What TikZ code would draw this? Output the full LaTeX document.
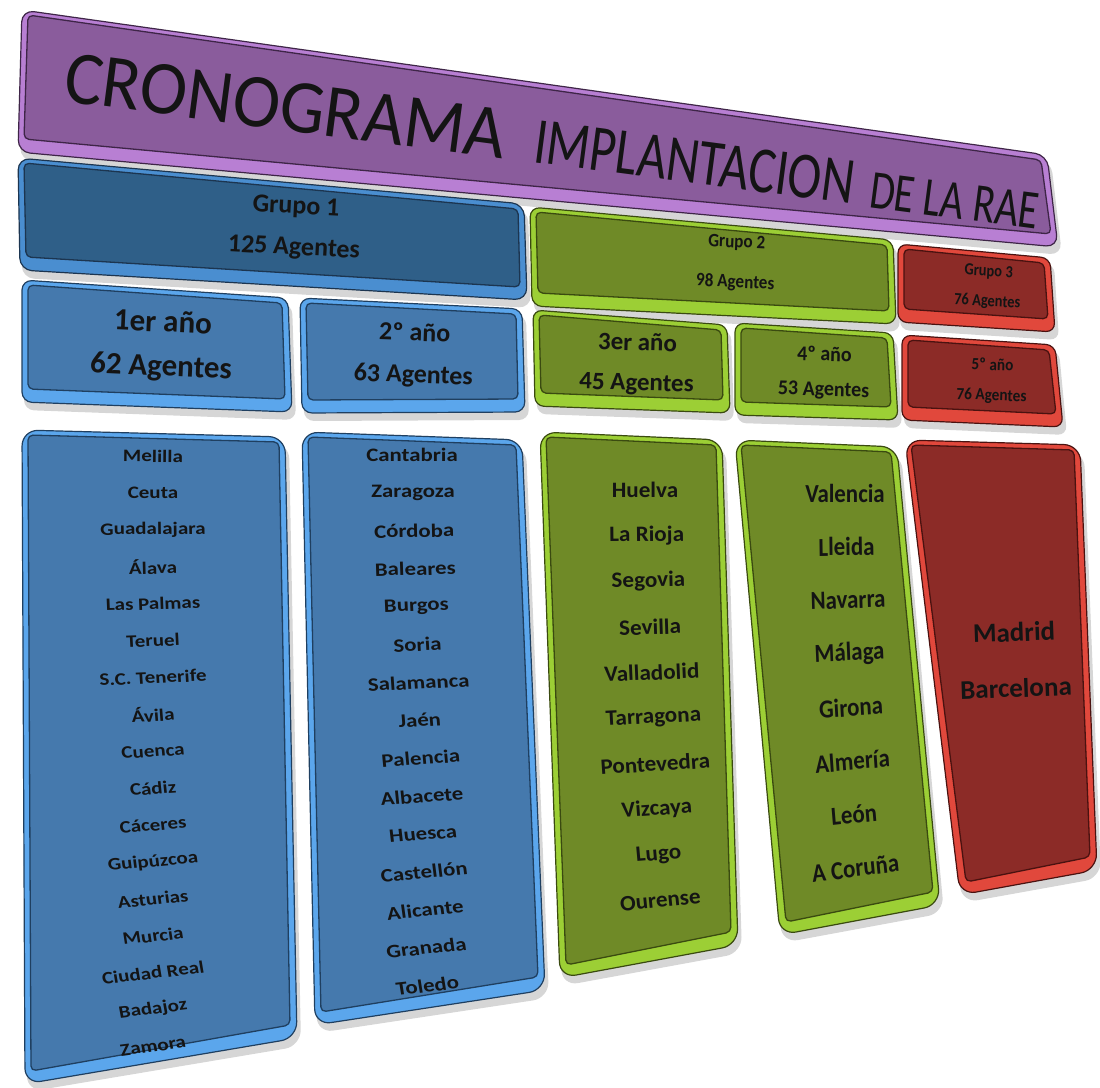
\documentclass[tikz,border=0pt]{standalone}
\usepackage{fontspec}
\setmainfont{Carlito}
\usetikzlibrary{calc}
\definecolor{purpFace}{HTML}{8A5C9C}
\definecolor{purpRim}{HTML}{B87FD3}
\definecolor{purpLine}{HTML}{3E2547}
\definecolor{gOneFace}{HTML}{2F5F88}
\definecolor{gOneRim}{HTML}{4A8ED0}
\definecolor{gOneLine}{HTML}{1C3550}
\definecolor{blueFace}{HTML}{4579AD}
\definecolor{blueRim}{HTML}{5BA6EC}
\definecolor{blueLine}{HTML}{1F3F60}
\definecolor{greenFace}{HTML}{6F8A27}
\definecolor{greenRim}{HTML}{9CCF35}
\definecolor{greenLine}{HTML}{3A4A10}
\definecolor{redFace}{HTML}{8C2B27}
\definecolor{redRim}{HTML}{E1483C}
\definecolor{redLine}{HTML}{4A1210}
\definecolor{txtc}{HTML}{141414}
\newcommand{\tf}[2]{\bfseries\fontsize{#1}{#2}\selectfont}
% #1 TL #2 TR #3 BR #4 BL #5 face #6 rim #7 line #8 radius
\newcommand{\pbox}[8]{%
  \fill[black, fill opacity=0.16, rounded corners=#8] ($#1+(2,6)$) -- ($#2+(4,6)$) -- ($#3+(4,8)$) -- ($#4+(2,8)$) -- cycle;
  \filldraw[fill=#6, draw=#7, line width=1.2pt, rounded corners=#8] #1 -- #2 -- #3 -- #4 -- cycle;
  \filldraw[fill=#5, draw=#7, line width=1.3pt, rounded corners=5] ($#1+(6,5)$) -- ($#2+(-6,5)$) -- ($#3+(-7,-13)$) -- ($#4+(6,-13)$) -- cycle;
}
\begin{document}
\begin{tikzpicture}[x=1pt,y=-1pt,
  txt/.style={text=txtc, inner sep=0pt, align=center},
  ttl/.style={text=txtc, inner sep=0pt, anchor=base west, rotate=-7.5}]
\useasboundingbox (0,0) rectangle (1100,1087);
\fill[white] (0,0) rectangle (1100,1087);

% title
\pbox{(22,10)}{(1047,155)}{(1058,247)}{(18,152)}{purpFace}{purpRim}{purpLine}{12}
\node[ttl, font=\fontsize{76}{76}\selectfont, xscale=0.94] (t1) at (62,101) {CRONOGRAMA};
\node[ttl, font=\fontsize{66}{66}\selectfont, xscale=0.77] (t2) at (532,162) {IMPLANTACION};
\node[ttl, font=\fontsize{55}{55}\selectfont, xscale=0.74] (t3) at (868,207) {DE LA RAE};

% groups
\pbox{(18,158)}{(524,204)}{(527,300)}{(20,270)}{gOneFace}{gOneRim}{gOneLine}{12}
\node[txt, font={\tf{26}{41}}, rotate=-3] (g1) at (295,228) {Grupo 1\\125 Agentes};

\pbox{(530,207)}{(893,240)}{(896,324)}{(532,306)}{greenFace}{greenRim}{greenLine}{10}
\node[txt, font={\tf{19}{40}}, xscale=0.9, rotate=-2.5] (g2) at (736,263) {Grupo 2\\98 Agentes};

\pbox{(898,244)}{(1050,258)}{(1055,332)}{(898,322)}{redFace}{redRim}{redLine}{9}
\node[txt, font={\tf{17}{30}}, xscale=0.85, rotate=-3] (g3) at (988,287) {Grupo 3\\76 Agentes};

% years
\pbox{(22,280)}{(288,298)}{(292,412)}{(22,402)}{blueFace}{blueRim}{blueLine}{10}
\node[txt, font={\tf{31}{44}}, rotate=-2.5] (y1) at (162,346) {1er año\\62 Agentes};

\pbox{(300,298)}{(522,309)}{(525,412)}{(302,413)}{blueFace}{blueRim}{blueLine}{10}
\node[txt, font={\tf{26}{42}}, rotate=-2] (y2) at (414,355) {2º año\\63 Agentes};

\pbox{(533,310)}{(727,325)}{(730,413)}{(535,406)}{greenFace}{greenRim}{greenLine}{9}
\node[txt, font={\tf{25}{40}}, rotate=-1.5] (y3) at (637,364) {3er año\\45 Agentes};

\pbox{(735,323)}{(893,333)}{(898,420)}{(735,415)}{greenFace}{greenRim}{greenLine}{9}
\node[txt, font={\tf{21}{35}}, xscale=0.95, rotate=-1.5] (y4) at (824,373) {4º año\\53 Agentes};

\pbox{(902,335)}{(1055,345)}{(1063,427)}{(902,420)}{redFace}{redRim}{redLine}{9}
\node[txt, font={\tf{17}{30}}, xscale=0.9, rotate=-2] (y5) at (992,381) {5º año\\76 Agentes};

% columns
\pbox{(22,430)}{(285,437)}{(297,1038)}{(25,1084)}{blueFace}{blueRim}{blueLine}{16}
\foreach \t [count=\i from 0] in {Melilla,Ceuta,Guadalajara,Álava,Las Palmas,Teruel,S.C. Tenerife,Ávila,Cuenca,Cádiz,Cáceres,Guipúzcoa,Asturias,Murcia,Ciudad Real,Badajoz,Zamora}
  \node[txt, font={\tf{17.5}{17.5}}, xscale=1.2, rotate={-0.5+0.6*\i}] (a\i) at (153,{456+36.9*\i}) {\t};

\pbox{(302,432)}{(522,440)}{(545,990)}{(315,1025)}{blueFace}{blueRim}{blueLine}{16}
\foreach \t [count=\i from 0] in {Cantabria,Zaragoza,Córdoba,Baleares,Burgos,Soria,Salamanca,Jaén,Palencia,Albacete,Huesca,Castellón,Alicante,Granada,Toledo}
  \node[txt, font={\tf{19}{19}}, xscale=1.2, rotate={0.55*\i}] (b\i) at ({412+1.1*\i},{455+37.9*\i}) {\t};

\pbox{(540,432)}{(722,440)}{(738,945)}{(560,978)}{greenFace}{greenRim}{greenLine}{16}
\foreach \t [count=\i from 0] in {Huelva,La Rioja,Segovia,Sevilla,Valladolid,Tarragona,Pontevedra,Vizcaya,Lugo,Ourense}
  \node[txt, font={\tf{22}{22}}, xscale=1.05, rotate={0.6*\i}] (c\i) at ({645+1.7*\i},{490+45.6*\i}) {\t};

\pbox{(735,440)}{(897,447)}{(940,905)}{(780,935)}{greenFace}{greenRim}{greenLine}{16}
\foreach \t [count=\i from 0] in {Valencia,Lleida,Navarra,Málaga,Girona,Almería,León,A Coruña}
  \node[txt, font={\tf{26}{26}}, xscale=0.88, rotate={0.9*\i}] (d\i) at ({845+1.5*\i},{493+53.6*\i}) {\t};

\pbox{(905,440)}{(1080,445)}{(1097,870)}{(960,895)}{redFace}{redRim}{redLine}{16}
\node[txt, font={\tf{27}{56}}, rotate=2] (e) at (1015,660) {Madrid\\Barcelona};
\end{tikzpicture}
\end{document}
